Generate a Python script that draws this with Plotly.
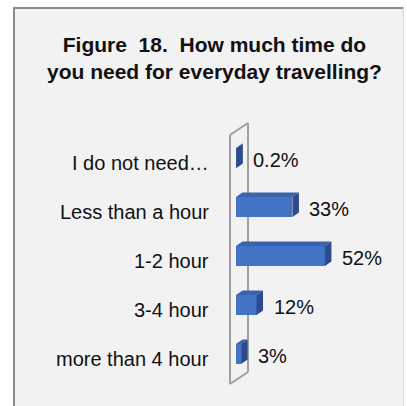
import plotly.graph_objects as go

# Survey answers and their shares (%)
categories = ["I do not need…", "Less than a hour", "1-2 hour", "3-4 hour", "more than 4 hour"]
values = [0.2, 33, 52, 12, 3]
value_labels = ["0.2%", "33%", "52%", "12%", "3%"]

W, H = 407, 406
L, R, T, B = 220, 0, 119, 3
X_RANGE = [-9.36, 100.0]
Y_RANGE = [4.9, -0.9]          # reversed: first category on top
PW, PH = W - L - R, H - T - B

FRONT = "#4472c4"
TOP = "#3a62ad"
SIDE = "#2c4b8c"

# 3D bar geometry (in axis units)
BAR_TOP_OFF = -0.306
BAR_H = 0.408
DEPTH_X = 3.8        # % units
DEPTH_Y = -0.092     # category units (upwards)


def px_x(p):
    return (p - L) / PW


def px_y(p):
    return 1 - (p - T) / PH


def data_y(p):
    return (p - T) / PH * (Y_RANGE[0] - Y_RANGE[1]) + Y_RANGE[1]


def data_x(p):
    return (p - L) / PW * (X_RANGE[1] - X_RANGE[0]) + X_RANGE[0]


pos = list(range(len(categories)))
fig = go.Figure()

# front faces
fig.add_trace(go.Bar(
    x=values, y=pos, orientation="h", base=0,
    width=BAR_H, offset=BAR_TOP_OFF,
    marker=dict(color=FRONT, line=dict(width=0)),
    hoverinfo="skip",
))

# top and side faces
for i, v in zip(pos, values):
    y0 = i + BAR_TOP_OFF
    y1 = y0 + BAR_H
    fig.add_trace(go.Scatter(
        x=[0, v, v + DEPTH_X, DEPTH_X, 0],
        y=[y0, y0, y0 + DEPTH_Y, y0 + DEPTH_Y, y0],
        fill="toself", fillcolor=TOP, mode="lines", line=dict(width=0),
        hoverinfo="skip", showlegend=False,
    ))
    fig.add_trace(go.Scatter(
        x=[v, v + DEPTH_X, v + DEPTH_X, v, v],
        y=[y0, y0 + DEPTH_Y, y1 + DEPTH_Y, y1, y0],
        fill="toself", fillcolor=SIDE, mode="lines", line=dict(width=0),
        hoverinfo="skip", showlegend=False,
    ))

shapes = []
# grey panel with its border
shapes.append(dict(type="rect", xref="paper", yref="paper",
                   x0=px_x(13), x1=px_x(403), y0=px_y(7), y1=px_y(H + 5),
                   fillcolor="#f2f2f2", line=dict(width=0), layer="below"))
shapes.append(dict(type="line", xref="paper", yref="paper",
                   x0=px_x(14), x1=px_x(14), y0=px_y(7), y1=px_y(H + 5),
                   line=dict(color="#8c8c8c", width=2), layer="below"))
shapes.append(dict(type="line", xref="paper", yref="paper",
                   x0=px_x(13), x1=px_x(403), y0=px_y(8), y1=px_y(8),
                   line=dict(color="#8c8c8c", width=2), layer="below"))
shapes.append(dict(type="line", xref="paper", yref="paper",
                   x0=px_x(403.5), x1=px_x(403.5), y0=px_y(7), y1=px_y(H + 5),
                   line=dict(color="#dadada", width=1), layer="below"))

# back wall outline
wl, wr = data_x(230), data_x(248)
wall = [(wl, data_y(135)), (wr, data_y(123)), (wr, data_y(372)), (wl, data_y(384))]
for a, b in zip(wall, wall[1:] + wall[:1]):
    shapes.append(dict(type="line", xref="x", yref="y",
                       x0=a[0], y0=a[1], x1=b[0], y1=b[1],
                       line=dict(color="#a0a0a0", width=2), layer="below"))

annotations = []
FONT = "Liberation Sans, Arial, sans-serif"
annotations.append(dict(
    xref="paper", yref="paper", x=px_x(214), y=px_y(58),
    text="<b>Figure  18.  How much time do<br>you need for everyday travelling?</b>",
    showarrow=False, xanchor="center", yanchor="middle",
    font=dict(family=FONT, size=21, color="#111111"),
))
for i, c in zip(pos, categories):
    annotations.append(dict(
        xref="paper", yref="y", x=px_x(211), y=i, text=c, showarrow=False,
        xanchor="right", yanchor="middle",
        font=dict(family=FONT, size=20, color="#111111"),
    ))
for i, v, t in zip(pos, values, value_labels):
    annotations.append(dict(
        xref="x", yref="y", x=v, y=i - 0.06, text=t, showarrow=False,
        xanchor="left", yanchor="middle", xshift=15,
        font=dict(family=FONT, size=20, color="#111111"),
    ))

fig.update_layout(
    width=W, height=H,
    margin=dict(l=L, r=R, t=T, b=B, pad=0),
    paper_bgcolor="white", plot_bgcolor="rgba(0,0,0,0)",
    showlegend=False, bargap=0,
    xaxis=dict(range=X_RANGE, visible=False, fixedrange=True),
    yaxis=dict(range=Y_RANGE, visible=False, fixedrange=True),
    shapes=shapes, annotations=annotations,
)

fig.write_html("out.html", config={"displayModeBar": False})
